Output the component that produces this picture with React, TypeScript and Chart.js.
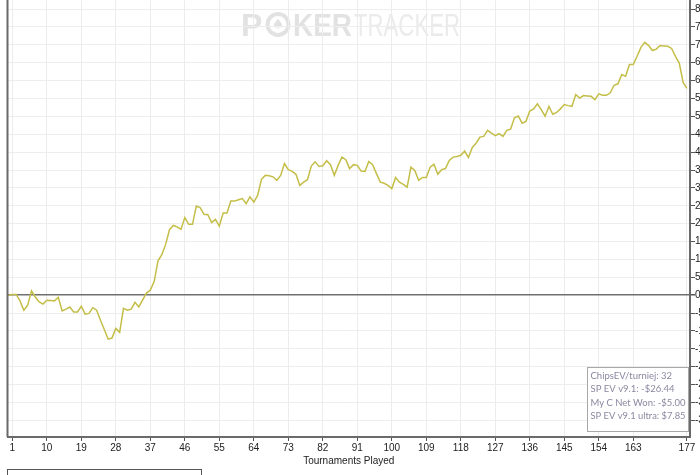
import React, { useEffect, useRef } from "react";
import { Chart, registerables } from "chart.js";

Chart.register(...registerables);

// Cumulative ChipsEV per tournament (tournament 0 .. 177)
const chipsEV = [
  0, 0.2, 0.2, -1.6, -4.2, -2.8, 1.2, -0.5, -1.9, -2.5,
  -1.4, -1.5, -1.6, -0.6, -4.4, -3.9, -3.3, -4.7, -4.7, -3.1,
  -5.3, -5.1, -3.5, -4.2, -7.0, -9.6, -12.3, -12.0, -9.3, -10.4,
  -3.7, -4.2, -3.9, -2.0, -3.3, -1.3, 0.6, 1.4, 3.8, 9.6,
  11.3, 14.2, 18.3, 19.5, 19.1, 18.4, 21.7, 19.8, 19.8, 24.9,
  24.5, 22.6, 22.5, 20.3, 21.2, 19.3, 23.0, 23.0, 26.3, 26.3,
  26.7, 27.0, 25.6, 27.5, 26.0, 27.9, 32.4, 33.5, 33.4, 33.1,
  32.1, 33.5, 36.8, 35.1, 34.6, 33.8, 30.7, 31.6, 32.3, 36.1,
  37.3, 36.0, 36.2, 37.6, 36.5, 33.5, 36.3, 38.6, 37.9, 35.4,
  36.5, 36.3, 34.7, 34.6, 37.4, 36.5, 34.0, 31.6, 31.3, 30.7,
  29.8, 32.9, 31.6, 31.0, 30.2, 35.8, 34.9, 32.1, 32.9, 32.9,
  35.8, 36.6, 33.8, 35.1, 35.4, 37.7, 38.6, 38.8, 39.1, 40.3,
  38.5, 41.3, 42.5, 44.2, 44.4, 46.1, 45.3, 44.6, 45.2, 44.4,
  46.1, 46.4, 49.6, 50.1, 48.1, 48.6, 51.5, 52.1, 53.5, 51.9,
  50.0, 52.8, 50.6, 51.1, 52.1, 53.3, 53.0, 52.8, 56.1, 55.1,
  55.8, 55.7, 55.6, 54.7, 56.3, 55.9, 55.9, 56.6, 58.7, 59.1,
  61.7, 61.2, 64.5, 64.5, 66.8, 69.3, 70.7, 69.8, 68.4, 68.8,
  69.8, 69.7, 69.6, 69.0, 66.8, 64.9, 59.5, 57.8,
];

const xTickValues = [1, 10, 19, 28, 37, 46, 55, 64, 73, 82, 91, 100, 109, 118, 127, 136, 145, 154, 163, 177];
const yTickValues = [-35, -30, -25, -20, -15, -10, -5, 0, 5, 10, 15, 20, 25, 30, 35, 40, 45, 50, 55, 60, 65, 70, 75, 80];
const xTitle = "Tournaments Played";
const legendLines = ["ChipsEV/turniej: 32", "SP EV v9.1: -$26.44", "My C Net Won: -$5.00", "SP EV v9.1 ultra: $7.85"];
const watermarkBold = "KER";
const watermarkLight = "TRACKER";

const AXIS = "#6a6a6a";

const decorPlugin = {
  id: "decor",
  beforeDraw(chart: any) {
    const ctx = chart.ctx;
    ctx.save();
    ctx.fillStyle = "#ffffff";
    ctx.fillRect(0, 0, chart.width, chart.height);
    // watermark
    ctx.fillStyle = "#e2e2e2";
    ctx.textBaseline = "alphabetic";
    ctx.font = 'bold 32px "Liberation Sans", Arial, sans-serif';
    ctx.fillText("P", 241, 36, 22);
    // chip as the O
    ctx.beginPath();
    ctx.arc(278, 24.5, 12.5, 0, Math.PI * 2);
    ctx.fill();
    ctx.fillStyle = "#ffffff";
    ctx.beginPath();
    ctx.arc(278, 24.5, 8.5, 0, Math.PI * 2);
    ctx.fill();
    ctx.fillStyle = "#e2e2e2";
    ctx.font = '14px "DejaVu Sans", sans-serif';
    ctx.textAlign = "center";
    ctx.textBaseline = "middle";
    ctx.fillText("\u2660", 278, 25);
    ctx.textAlign = "left";
    ctx.textBaseline = "alphabetic";
    ctx.font = 'bold 32px "Liberation Sans", Arial, sans-serif';
    ctx.fillText(watermarkBold, 293, 36, 59);
    ctx.fillStyle = "#ebebeb";
    ctx.font = '32px "Liberation Sans Narrow", "Liberation Sans", Arial, sans-serif';
    ctx.fillText(watermarkLight, 354, 36, 106);
    ctx.restore();
  },
  afterDraw(chart: any) {
    const ctx = chart.ctx;
    const a = chart.chartArea;
    ctx.save();
    // left axis line
    ctx.strokeStyle = AXIS;
    ctx.lineWidth = 2;
    ctx.beginPath();
    ctx.moveTo(a.left, 0);
    ctx.lineTo(a.left, a.bottom);
    ctx.stroke();
    // legend box
    const bx = 587.5, by = 367.5, bw = 101, bh = 64;
    ctx.fillStyle = "rgba(255,255,255,0.92)";
    ctx.fillRect(bx, by, bw, bh);
    ctx.strokeStyle = "#a8a8a8";
    ctx.lineWidth = 1;
    ctx.strokeRect(bx, by, bw, bh);
    ctx.fillStyle = "#8c87a0";
    ctx.font = '9.5px "Lato", "Noto Sans", sans-serif';
    ctx.textBaseline = "middle";
    ctx.textAlign = "left";
    legendLines.forEach((t, i) => {
      ctx.fillText(t, bx + 3, 375.7 + i * 13.45, bw - 6);
    });
    // lower legend frame
    ctx.strokeStyle = "#555555";
    ctx.lineWidth = 1;
    ctx.strokeRect(7.5, 469.5, 194, 20);
    ctx.restore();
  },
};

export default function App() {
  const ref = useRef<HTMLCanvasElement | null>(null);

  useEffect(() => {
    if (!ref.current) return;
    const points = chipsEV.map((v, i) => ({ x: i, y: v }));
    const chart = new Chart(ref.current, {
      type: "line",
      data: {
        datasets: [
          {
            data: points,
            borderColor: "rgb(196,190,72)",
            borderWidth: 1.5,
            pointRadius: 0,
            tension: 0,
            fill: false,
          },
        ],
      },
      options: {
        responsive: false,
        animation: false,
        devicePixelRatio: 1,
        layout: { padding: { left: 7.5, right: 0, top: 0, bottom: 0 } },
        plugins: { legend: { display: false }, tooltip: { enabled: false } },
        scales: {
          x: {
            type: "linear",
            min: -0.26,
            max: 177.8,
            afterBuildTicks: (s: any) => {
              s.ticks = xTickValues.map((v) => ({ value: v }));
            },
            afterFit: (s: any) => {
              s.height = 38;
            },
            ticks: {
              autoSkip: false,
              maxRotation: 0,
              padding: 1,
              color: "#222",
              font: { family: '"Liberation Sans", Arial, sans-serif', size: 10 },
              callback: (v: any) => String(v),
            },
            grid: { color: "#ececec", lineWidth: 1, tickColor: "#555", tickLength: 4 },
            border: { display: true, color: AXIS, width: 2 },
            title: {
              display: true,
              text: xTitle,
              color: "#222",
              font: { family: '"Liberation Sans", Arial, sans-serif', size: 10 },
              padding: { top: 0, bottom: 7.5 },
            },
          },
          y: {
            type: "linear",
            position: "right",
            min: -39.66,
            max: 82.4,
            afterBuildTicks: (s: any) => {
              s.ticks = yTickValues.map((v) => ({ value: v }));
            },
            afterFit: (s: any) => {
              s.width = 10;
            },
            ticks: {
              autoSkip: false,
              padding: 0,
              color: "#222",
              font: { family: '"Liberation Sans", Arial, sans-serif', size: 10, lineHeight: 0.1 },
              callback: (v: any) => String(v),
            },
            grid: {
              color: (c: any) => (c.tick && c.tick.value === 0 ? "#707070" : "#ededed"),
              lineWidth: (c: any) => (c.tick && c.tick.value === 0 ? 1.5 : 1),
              tickColor: "#555",
              tickLength: 5,
            },
            border: { display: true, color: AXIS, width: 2 },
          },
        },
      },
      plugins: [decorPlugin],
    });
    return () => chart.destroy();
  }, []);

  return (
    <div
      style={{
        position: "fixed",
        left: 0,
        top: 0,
        width: 700,
        height: 475,
        overflow: "hidden",
        background: "#fff",
      }}
    >
      <canvas ref={ref} width={700} height={475} style={{ display: "block" }} />
    </div>
  );
}
